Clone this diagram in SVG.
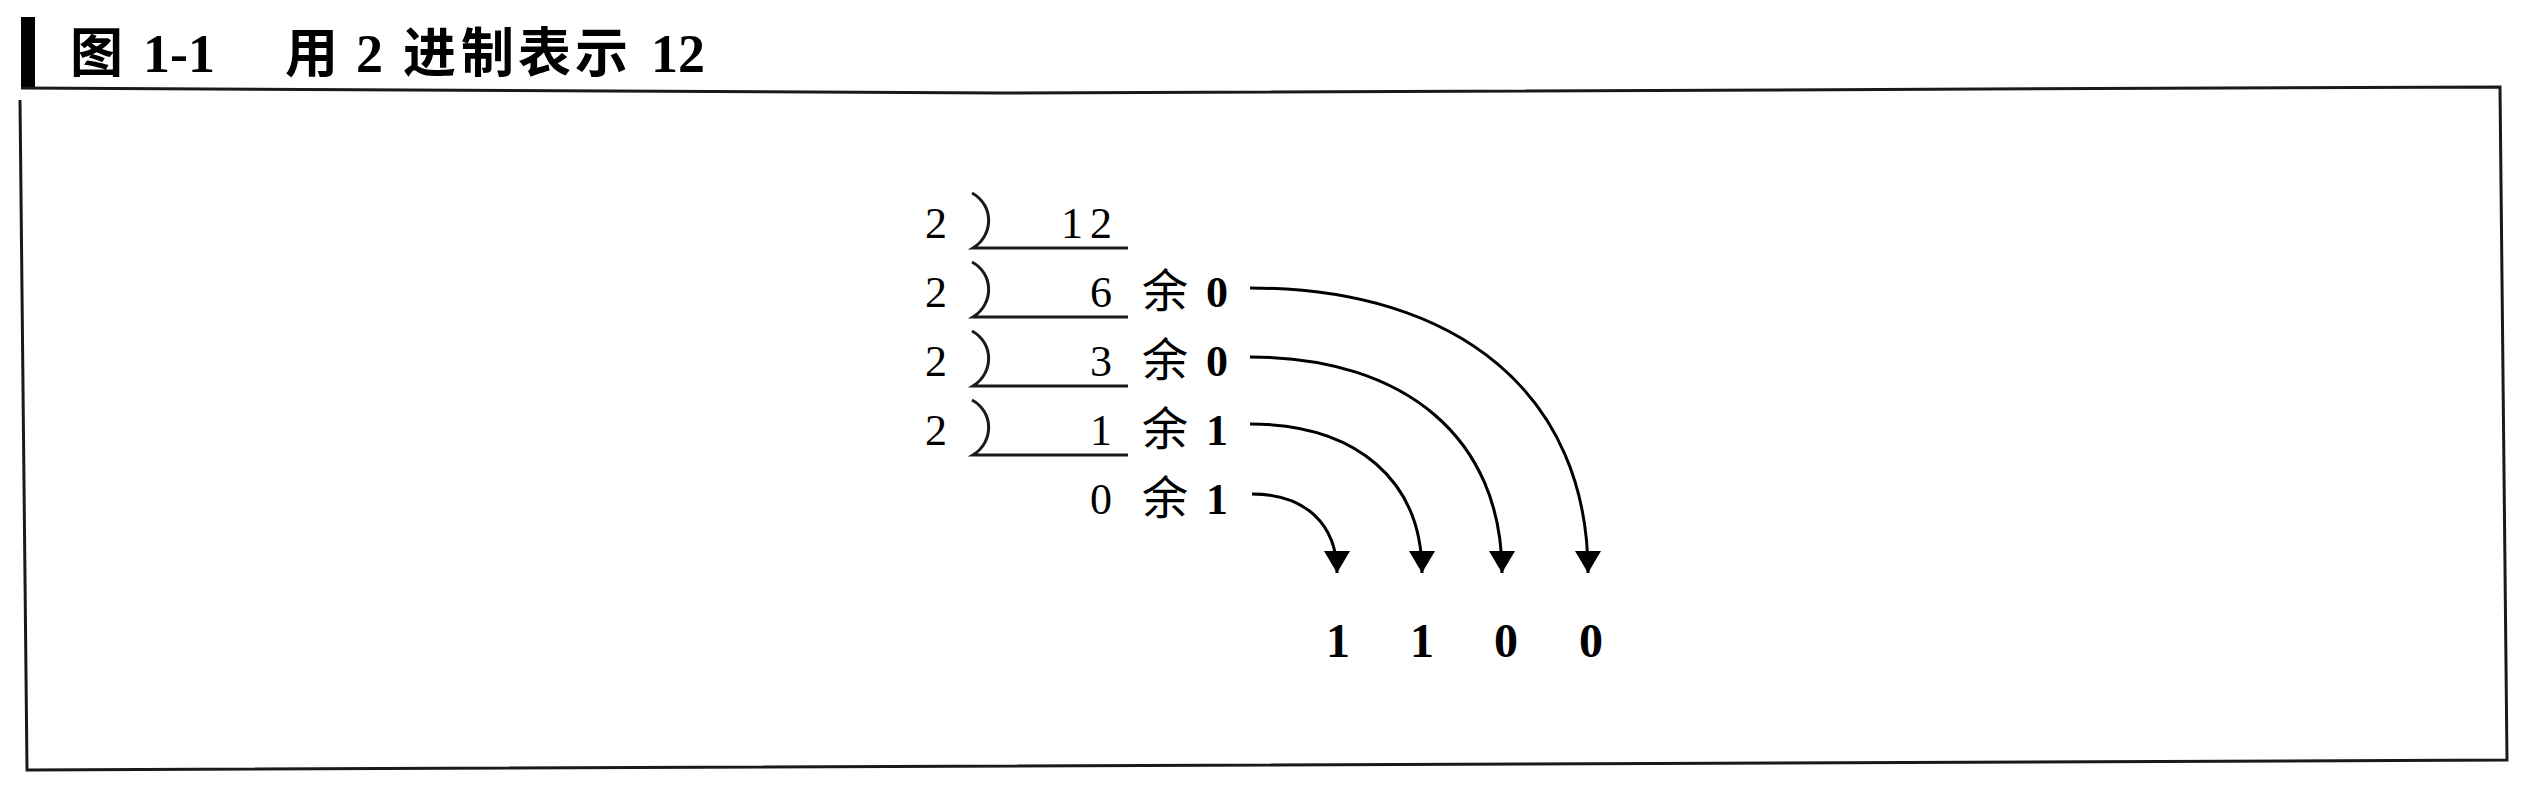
<svg xmlns="http://www.w3.org/2000/svg" width="2532" height="812" viewBox="0 0 2532 812">
<style>
.frame{fill:none;stroke:#1a1a1a;stroke-width:3}
.cjkT{font-family:"Noto Sans CJK SC","Noto Sans CJK JP",sans-serif;font-weight:bold;font-size:53px;fill:#000}
.numT{font-family:"Liberation Serif",serif;font-weight:bold;font-size:54px;fill:#000}
.num{font-family:"Liberation Serif",serif;font-size:44px;fill:#000}
.numB{font-family:"Liberation Serif",serif;font-weight:bold;font-size:44px;fill:#000}
.numBig{font-family:"Liberation Serif",serif;font-weight:bold;font-size:48px;fill:#000;text-anchor:middle}
.cjk{font-family:"Noto Sans CJK SC","Noto Sans CJK JP",sans-serif;font-size:46px;fill:#000}
.div{fill:none;stroke:#1a1a1a;stroke-width:3}
.arc{fill:none;stroke:#000;stroke-width:3}
</style>
<defs>
<marker id="ah" markerUnits="userSpaceOnUse" markerWidth="26" markerHeight="24" refX="13" refY="22" orient="0" viewBox="0 0 26 24">
<path d="M0,0 L26,0 L13,22 Z" fill="#000"/>
</marker>
</defs>
<g id="title">
<rect x="21" y="17" width="14" height="72" fill="#000"/>
<text class="cjkT" x="70" y="72">图</text>
<text class="numT" x="143" y="72">1-1</text>
<text class="cjkT" x="285" y="72">用</text>
<text class="numT" x="356" y="72">2</text>
<text class="cjkT" x="403" y="72">进</text>
<text class="cjkT" x="461" y="72">制</text>
<text class="cjkT" x="518" y="72">表</text>
<text class="cjkT" x="575" y="72">示</text>
<text class="numT" x="651" y="72">1</text>
<text class="numT" x="678" y="72">2</text>
</g>
<g id="frame">
<path class="frame" d="M21,88 L1000,93 L2500,87 L2507,760 L27,770 L20,100"/>
</g>
<g id="division">
<text class="num" x="925" y="238">2</text>
<text class="num" x="925" y="307">2</text>
<text class="num" x="925" y="376">2</text>
<text class="num" x="925" y="445">2</text>
<path class="div" d="M972,193 C994,205 994,235 973,248 L1128,248"/>
<path class="div" d="M972,262 C994,274 994,304 973,317 L1128,317"/>
<path class="div" d="M972,331 C994,343 994,373 973,386 L1128,386"/>
<path class="div" d="M972,400 C994,412 994,442 973,455 L1128,455"/>
<text class="num" x="1083" y="238" text-anchor="end">1</text>
<text class="num" x="1112" y="238" text-anchor="end">2</text>
<text class="num" x="1112" y="307" text-anchor="end">6</text>
<text class="num" x="1112" y="376" text-anchor="end">3</text>
<text class="num" x="1112" y="445" text-anchor="end">1</text>
<text class="num" x="1112" y="514" text-anchor="end">0</text>
</g>
<g id="remainders">
<text class="cjk" x="1142" y="307">余</text>
<text class="numB" x="1217" y="307" text-anchor="middle">0</text>
<text class="cjk" x="1142" y="376">余</text>
<text class="numB" x="1217" y="376" text-anchor="middle">0</text>
<text class="cjk" x="1142" y="445">余</text>
<text class="numB" x="1217" y="445" text-anchor="middle">1</text>
<text class="cjk" x="1142" y="514">余</text>
<text class="numB" x="1217" y="514" text-anchor="middle">1</text>
</g>
<g id="connectors">
<path class="arc" marker-end="url(#ah)" d="M1250,288 C1460,288 1588,396 1588,573"/>
<path class="arc" marker-end="url(#ah)" d="M1250,357 C1406,357 1502,439 1502,573"/>
<path class="arc" marker-end="url(#ah)" d="M1250,424 C1357,424 1422,481 1422,573"/>
<path class="arc" marker-end="url(#ah)" d="M1252,494 C1305,494 1337,524 1337,573"/>
</g>
<g id="result">
<text class="numBig" x="1338" y="657">1</text>
<text class="numBig" x="1422" y="657">1</text>
<text class="numBig" x="1506" y="657">0</text>
<text class="numBig" x="1591" y="657">0</text>
</g>
</svg>
